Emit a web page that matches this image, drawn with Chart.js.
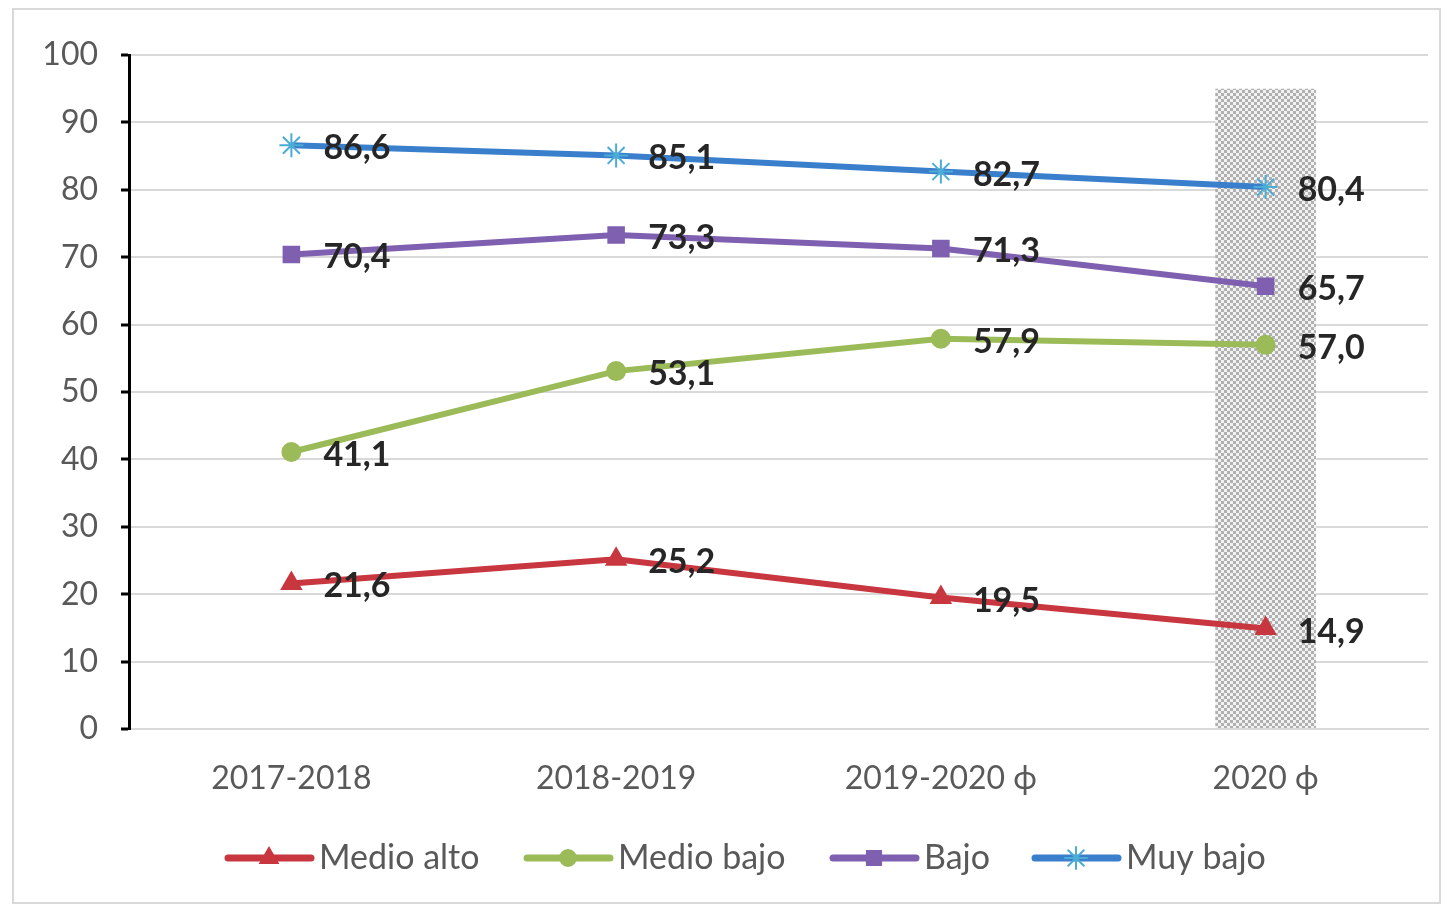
<!DOCTYPE html>
<html>
<head>
<meta charset="utf-8">
<script src="https://cdn.jsdelivr.net/npm/chart.js@4/dist/chart.umd.min.js"></script>
<style>
  html,body{margin:0;padding:0;background:#fff;}
  #wrap{position:relative;width:1448px;height:910px;}
  #frame{position:absolute;left:12px;top:8px;width:1429px;height:896px;border:2px solid #d9d9d9;box-sizing:border-box;pointer-events:none;}
  canvas{position:absolute;left:0;top:0;}
</style>
</head>
<body>
<div id="wrap">
  <canvas id="c" width="1448" height="910"></canvas>
  <div id="frame"></div>
</div>
<script>
const categories = ["2017-2018", "2018-2019", "2019-2020 \u03d5", "2020 \u03d5"];
const medioAlto = [21.6, 25.2, 19.5, 14.9];
const medioBajo = [41.1, 53.1, 57.9, 57.0];
const bajo = [70.4, 73.3, 71.3, 65.7];
const muyBajo = [86.6, 85.1, 82.7, 80.4];
const shadeValues = [null, null, null, 95];
const yTicks = [0, 10, 20, 30, 40, 50, 60, 70, 80, 90, 100];

const FONT = "Lato, 'Open Sans', sans-serif";

function checker() {
  const p = document.createElement('canvas');
  p.width = 6; p.height = 6;
  const g = p.getContext('2d');
  g.fillStyle = '#f2f2f2'; g.fillRect(0, 0, 6, 6);
  g.fillStyle = '#b0b0b0';
  g.fillRect(0, 0, 3, 3); g.fillRect(3, 3, 3, 3);
  return g.createPattern(p, 'repeat');
}

const ctx = document.getElementById('c').getContext('2d');

const labelPlugin = {
  id: 'valueLabels',
  afterDatasetsDraw(chart) {
    const c = chart.ctx;
    c.save();
    c.font = "bold 34px " + FONT;
    c.fillStyle = '#262626';
    c.textAlign = 'left';
    c.textBaseline = 'middle';
    chart.data.datasets.forEach((ds, i) => {
      if (ds.type !== 'line') return;
      const meta = chart.getDatasetMeta(i);
      meta.data.forEach((pt, j) => {
        const v = ds.data[j];
        c.fillText(v.toFixed(1).replace('.', ','), pt.x + 32, pt.y + 3);
      });
    });
    c.restore();
  }
};

const legendPlugin = {
  id: 'customLegend',
  afterDraw(chart) {
    const c = chart.ctx;
    const items = chart.data.datasets.filter(d => d.type === 'line');
    const xs = [228, 527, 833, 1035];
    const y = 858;
    c.save();
    items.forEach((ds, i) => {
      const x0 = xs[i];
      c.strokeStyle = ds.borderColor;
      c.lineWidth = 7;
      c.lineCap = 'round';
      c.beginPath(); c.moveTo(x0, y); c.lineTo(x0 + 83, y); c.stroke();
      c.fillStyle = ds.pointBackgroundColor;
      c.strokeStyle = ds.pointBorderColor;
      c.lineWidth = ds.pointBorderWidth;
      Chart.helpers.drawPoint(c, {pointStyle: ds.pointStyle, radius: ds.pointRadius - 1, borderWidth: ds.pointBorderWidth, rotation: 0}, x0 + 41, y);
      c.font = "34px " + FONT;
      c.fillStyle = '#595959';
      c.textAlign = 'left';
      c.textBaseline = 'middle';
      c.fillText(ds.label, x0 + 91, y);
    });
    c.restore();
  }
};

function lineDs(label, data, color, marker, pstyle, radius) {
  return {
    type: 'line', label, data, order: 0,
    borderColor: color, borderWidth: 6,
    pointStyle: pstyle, pointRadius: radius, pointHoverRadius: radius,
    pointBackgroundColor: marker, pointBorderColor: marker, pointBorderWidth: 2,
    tension: 0, fill: false
  };
}

new Chart(ctx, {
  data: {
    labels: categories,
    datasets: [
      {
        type: 'bar', label: 'shade', data: shadeValues, order: 10,
        backgroundColor: checker(), borderWidth: 0,
        barPercentage: 0.31, categoryPercentage: 1
      },
      lineDs('Medio alto', medioAlto, '#C8373F', '#C8373F', 'triangle', 11),
      lineDs('Medio bajo', medioBajo, '#9BBB59', '#9BBB59', 'circle', 9),
      lineDs('Bajo', bajo, '#7F5FB0', '#7F5FB0', 'rect', 11),
      lineDs('Muy bajo', muyBajo, '#3A7FCB', '#4BACD6', 'star', 12)
    ]
  },
  options: {
    responsive: false,
    animation: false,
    layout: { padding: { left: 0, right: 20, top: 55, bottom: 101 } },
    plugins: { legend: { display: false }, tooltip: { enabled: false } },
    scales: {
      x: {
        type: 'category',
        grid: { display: false, drawTicks: false },
        border: { display: true, color: '#d9d9d9', width: 2 },
        ticks: { color: '#595959', font: { family: FONT, size: 32 }, padding: 30 },
        afterFit(s) { s.height = 80; }
      },
      y: {
        min: 0, max: 100,
        afterBuildTicks(s) { s.ticks = yTicks.map(v => ({ value: v })); },
        grid: { color: '#d9d9d9', lineWidth: 2, tickLength: 8, tickColor: '#000', tickWidth: 3 },
        border: { display: true, color: '#000', width: 3 },
        ticks: { color: '#595959', font: { family: FONT, size: 32 }, padding: 23 },
        afterFit(s) { s.width = 129; }
      }
    }
  },
  plugins: [labelPlugin, legendPlugin]
});
</script>
</body>
</html>
